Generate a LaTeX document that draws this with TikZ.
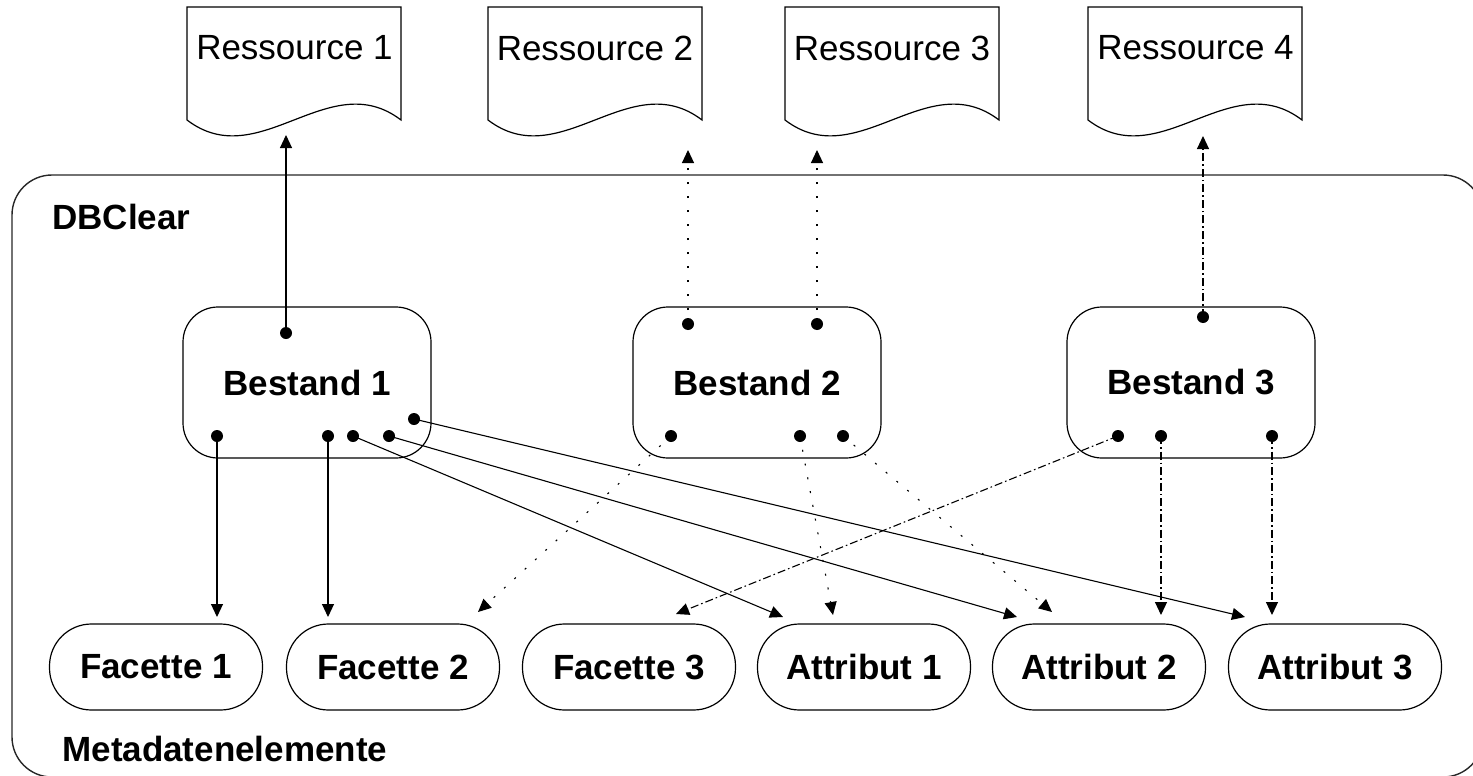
\documentclass[tikz,border=0pt]{standalone}
\usepackage{fontspec}
\setmainfont{Liberation Sans}
\usetikzlibrary{arrows.meta}
\tikzset{
  line/.style={draw=black, line width=0.55pt},
  docline/.style={draw=black, line width=0.6pt, fill=white},
  bestandbox/.style={draw=black, line width=0.6pt, rounded corners=17.5pt, minimum width=124pt, minimum height=75.5pt, font=\bfseries\fontsize{17.5}{21}\selectfont, inner sep=0pt},
  metabox/.style={draw=black, line width=0.6pt, rounded corners=21pt, minimum width=106.5pt, minimum height=43pt, font=\bfseries\fontsize{17.5}{21}\selectfont, inner sep=0pt},
  restext/.style={font=\fontsize{17.5}{21}\selectfont, inner sep=0pt},
  grouplabel/.style={font=\bfseries\fontsize{17.5}{21}\selectfont, inner sep=0pt, anchor=west},
  dot/.style={circle, fill=black, inner sep=0pt, minimum size=6pt},
  tipstyle/.style={-{Triangle[length=6.5pt,width=6pt]}},
  solidarrow/.style={line, tipstyle},
  dottedarrow/.style={line, tipstyle, dash pattern=on 1pt off 6pt},
  dashdotarrow/.style={line, tipstyle, dash pattern=on 4pt off 1.5pt on 0.8pt off 1.5pt},
  docpic/.pic={\path[docline] (0,0) -- (214,0) -- (214,113) .. controls (142,58) and (72,168) .. (0,113) -- cycle;}
}
\begin{document}
\begin{tikzpicture}[x=0.5pt,y=-0.5pt]
\path[use as bounding box] (0,0) rectangle (1473,776);
\clip (0,0) rectangle (1473,776);

% container
\draw[draw=black!85, line width=0.7pt, rounded corners=20pt] (12,175) rectangle (1483,777);
\node[grouplabel] (dbclear) at (52,216.5) {DBClear};
\node[grouplabel] (meta) at (62,749) {Metadatenelemente};

% documents
\pic at (187,7) {docpic};
\pic at (488,7) {docpic};
\pic at (785,7) {docpic};
\pic at (1088,7) {docpic};
\node[restext] (r1) at (294.5,48) {Ressource 1};
\node[restext] (r2) at (595,48) {Ressource 2};
\node[restext] (r3) at (892,48) {Ressource 3};
\node[restext] (r4) at (1195.5,48) {Ressource 4};
\coordinate (r1in) at (286,135);
\coordinate (r2in) at (688,150);
\coordinate (r3in) at (817,150);
\coordinate (r4in) at (1203,136);

% Bestand boxes
\node[bestandbox] (b1) at (307,382.5) {Bestand 1};
\node[bestandbox] (b2) at (757,382.5) {Bestand 2};
\node[bestandbox] (b3) at (1191,382.5) {Bestand 3};

% metadata elements
\node[metabox] (f1) at (156,667) {Facette 1};
\node[metabox] (f2) at (393,667) {Facette 2};
\node[metabox] (f3) at (629,667) {Facette 3};
\node[metabox] (a1) at (864,667) {Attribut 1};
\node[metabox] (a2) at (1099,667) {Attribut 2};
\node[metabox] (a3) at (1335,667) {Attribut 3};

% end points above metadata elements
\coordinate (f1in) at (217,617);
\coordinate (f2inA) at (328,617);
\coordinate (f2inB) at (478,612);
\coordinate (f3in) at (676,614);
\coordinate (a1inA) at (783,617);
\coordinate (a1inB) at (833,615);
\coordinate (a2inA) at (1017,617);
\coordinate (a2inB) at (1052,612);
\coordinate (a2inC) at (1161,615);
\coordinate (a3inA) at (1245,617);
\coordinate (a3inC) at (1272,615);

% dots
\node[dot] (d1t) at (286,333) {};
\node[dot] (d1a) at (217,436) {};
\node[dot] (d1b) at (328,436) {};
\node[dot] (d1c) at (353,436) {};
\node[dot] (d1d) at (389,436) {};
\node[dot] (d1e) at (414,419) {};
\node[dot] (d2t1) at (688,324) {};
\node[dot] (d2t2) at (817,324) {};
\node[dot] (d2a) at (671,436) {};
\node[dot] (d2b) at (800,436) {};
\node[dot] (d2c) at (843,436) {};
\node[dot] (d3t) at (1203,317) {};
\node[dot] (d3a) at (1118,436) {};
\node[dot] (d3b) at (1161,436) {};
\node[dot] (d3c) at (1272,436) {};

% Bestand 1 (solid)
\draw[solidarrow] (d1t.center) -- (r1in);
\draw[solidarrow] (d1a.center) -- (f1in);
\draw[solidarrow] (d1b.center) -- (f2inA);
\draw[solidarrow] (d1c.center) -- (a1inA);
\draw[solidarrow] (d1d.center) -- (a2inA);
\draw[solidarrow] (d1e.center) -- (a3inA);

% Bestand 2 (dotted)
\draw[dottedarrow] (d2t1.center) -- (r2in);
\draw[dottedarrow] (d2t2.center) -- (r3in);
\draw[dottedarrow] (d2a.center) -- (f2inB);
\draw[dottedarrow] (d2b.center) -- (a1inB);
\draw[dottedarrow] (d2c.center) -- (a2inB);

% Bestand 3 (dash-dot)
\draw[dashdotarrow] (d3t.center) -- (r4in);
\draw[dashdotarrow] (d3a.center) -- (f3in);
\draw[dashdotarrow] (d3b.center) -- (a2inC);
\draw[dashdotarrow] (d3c.center) -- (a3inC);
\end{tikzpicture}
\end{document}
